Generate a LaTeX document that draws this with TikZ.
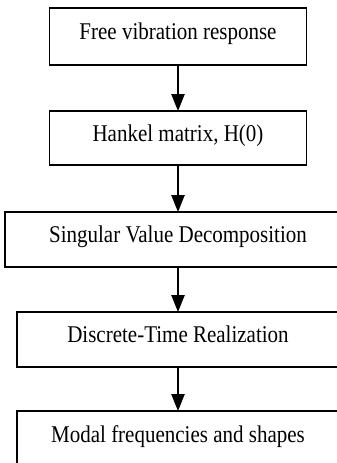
\documentclass[tikz,border=0pt]{standalone}
\usepackage{fontspec}
\setmainfont{Liberation Serif}
\usetikzlibrary{arrows.meta}
\newcommand{\boxtext}[1]{\scalebox{0.875}[1]{#1}}
\tikzset{
  flowbox/.style={draw=black, line width=1.8pt, rectangle, inner sep=0pt,
    font=\fontsize{24}{28}\selectfont, text height=0.66em, text depth=0pt},
  flowarrow/.style={line width=2.2pt, -{Triangle[width=13pt,length=17pt]}, shorten >=-1pt}
}
\begin{document}
\begin{tikzpicture}[x=1pt,y=-1pt]
\clip (0,0) rectangle (337,463);
\useasboundingbox (0,0) rectangle (337,463);
\node[flowbox, minimum width=257pt, minimum height=57pt] (b1) at (178,36.5) {\boxtext{Free vibration response}};
\node[flowbox, minimum width=257pt, minimum height=54pt] (b2) at (178,138) {\boxtext{Hankel matrix, H(0)}};
\node[flowbox, minimum width=346pt, minimum height=55pt] (b3) at (178,239.5) {\boxtext{Singular Value Decomposition}};
\node[flowbox, minimum width=322pt, minimum height=55pt] (b4) at (178,339.5) {\boxtext{Discrete-Time Realization}};
\node[flowbox, minimum width=322pt, minimum height=56pt] (b5) at (178,439) {\boxtext{Modal frequencies and shapes}};
\draw[flowarrow] (b1.south) -- (b2.north);
\draw[flowarrow] (b2.south) -- (b3.north);
\draw[flowarrow] (b3.south) -- (b4.north);
\draw[flowarrow] (b4.south) -- (b5.north);
\end{tikzpicture}
\end{document}
